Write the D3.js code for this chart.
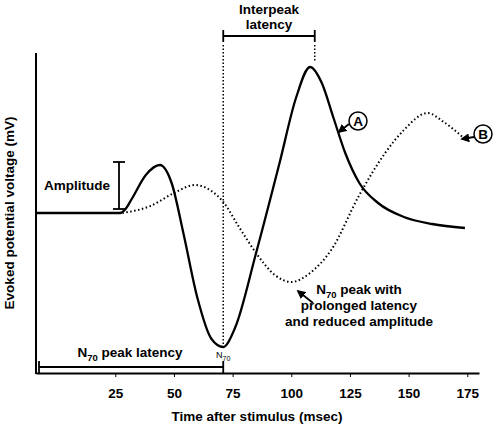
<!DOCTYPE html>
<html><head><meta charset="utf-8">
<script src="https://cdn.jsdelivr.net/npm/d3@7"></script>
<style>body{margin:0;background:#fff}text{font-family:"Liberation Sans",Arial,sans-serif;font-weight:bold;font-size:13.5px}</style>
</head><body><svg id="c" width="500" height="433"></svg>
<script>
// curve A (solid) : time (ms) and voltage
var timeA = [-8.8, 10, 26, 27, 29, 32, 38, 44, 49, 54, 60, 66, 71, 76, 85, 95, 102, 108, 113, 118, 123, 129, 137, 148, 160, 174];
var voltA = [0, 0, 0, 0, 0.3, 1.4, 3.8, 4.8, 3, -2, -8.5, -12.6, -13.4, -11.5, -4, 5, 11.5, 14.6, 13, 9.5, 6, 3, 1, -0.4, -1.1, -1.5];
// curve B (dotted)
var timeB = [28, 40, 50, 59, 66, 71, 78, 85, 93, 100, 108, 117, 129, 140, 148, 158, 165, 173];
var voltB = [0, 0.7, 2, 2.8, 2.2, 1.1, -1.5, -4, -6.2, -6.9, -6, -3.7, 1.8, 6, 8.3, 10, 9.1, 7.6];
var xTicks = [25, 50, 75, 100, 125, 150, 175];

var svg = d3.select('#c');
var x = d3.scaleLinear().domain([-8.8, 180]).range([36, 479]);
var y = d3.scaleLinear().domain([-16, 16]).range([373, 53]);

svg.append('g').attr('transform', 'translate(0,373)')
  .call(d3.axisBottom(x).tickValues(xTicks).tickSize(4).tickSizeOuter(0))
  .call(function(g) {
    g.select('.domain').attr('stroke-width', 2);
    g.selectAll('text').attr('dy', '1.3em').style('font-size', '13.5px');
  });
svg.append('line').attr('x1', 36).attr('x2', 36).attr('y1', 53).attr('y2', 374)
  .attr('stroke', '#000').attr('stroke-width', 2);

var line = d3.line().curve(d3.curveMonotoneX)
  .x(function(d) { return x(d[0]); }).y(function(d) { return y(d[1]); });
svg.append('path').attr('d', line(d3.zip(timeA, voltA)))
  .attr('fill', 'none').attr('stroke', '#000').attr('stroke-width', 2.3);
svg.append('path').attr('d', line(d3.zip(timeB, voltB)))
  .attr('fill', 'none').attr('stroke', '#000').attr('stroke-width', 2).attr('stroke-dasharray', '1.5,2.5');

function ln(x1, y1, x2, y2, w, dash) {
  return svg.append('line').attr('x1', x1).attr('y1', y1).attr('x2', x2).attr('y2', y2)
    .attr('stroke', '#000').attr('stroke-width', w || 1.8).attr('stroke-dasharray', dash || null);
}
function txt(tx, ty, s, anchor) {
  return svg.append('text').attr('x', tx).attr('y', ty).attr('text-anchor', anchor || 'middle').text(s);
}
// interpeak
ln(x(71), 45, x(71), 347, 1.5, '1.5,2');
ln(x(110), 45, x(110), 62, 1.5, '1.5,2');
ln(x(71), 36, x(110), 36); ln(x(71), 30, x(71), 42); ln(x(110), 30, x(110), 42);
txt(x(90.5), 14, 'Interpeak'); txt(x(90.5), 29, 'latency');
// amplitude
ln(119, 162, 119, 209); ln(113, 162, 125, 162); ln(113, 209, 125, 209);
txt(77, 190, 'Amplitude');
// N70 peak latency
ln(39, 367, x(71), 367); ln(39, 361, 39, 373); ln(x(71), 361, x(71), 373);
var t1 = txt(130, 357, 'N'); t1.append('tspan').attr('dy', 4).style('font-size', '9.5px').text('70');
t1.append('tspan').attr('dy', -4).text(' peak latency');
var t2 = svg.append('text').attr('x', x(71)).attr('y', 358).attr('text-anchor', 'middle')
  .style('font-weight', 'normal').style('font-size', '9px').text('N');
t2.append('tspan').attr('dy', 3).style('font-size', '7px').text('70');
// labels A, B
svg.append('defs').append('marker').attr('id', 'ah').attr('viewBox', '0 0 10 10')
  .attr('refX', 8).attr('refY', 5).attr('markerWidth', 5).attr('markerHeight', 5).attr('orient', 'auto')
  .append('path').attr('d', 'M0,0L10,5L0,10z');
[[358, 121, 'A', 339, 132], [483, 134, 'B', 462, 139]].forEach(function(d) {
  svg.append('circle').attr('cx', d[0]).attr('cy', d[1]).attr('r', 9).attr('fill', '#fff')
    .attr('stroke', '#000').attr('stroke-width', 1.5);
  txt(d[0], d[1] + 5, d[2]);
  ln(d[0] - 9, d[1] + 3, d[3], d[4], 1.8).attr('marker-end', 'url(#ah)');
});
// N70 note
var t3 = txt(359, 294, 'N'); t3.append('tspan').attr('dy', 4).style('font-size', '9.5px').text('70');
t3.append('tspan').attr('dy', -4).text(' peak with');
txt(359, 310, 'prolonged latency'); txt(359, 326, 'and reduced amplitude');
ln(313, 303, 298, 291, 1.8).attr('marker-end', 'url(#ah)');
// axis titles
txt(257, 421, 'Time after stimulus (msec)');
svg.append('text').attr('transform', 'translate(14,213) rotate(-90)').attr('text-anchor', 'middle')
  .text('Evoked potential voltage (mV)');
</script></body></html>
